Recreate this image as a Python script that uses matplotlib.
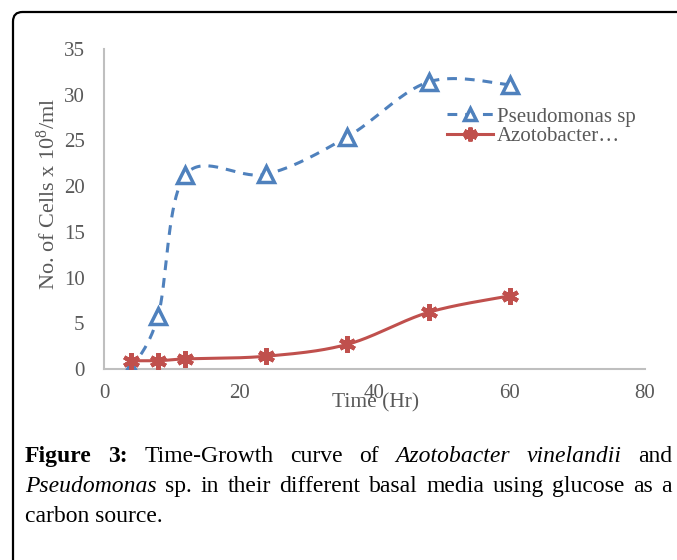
import numpy as np
import matplotlib
matplotlib.use("Agg")
import matplotlib.pyplot as plt
from matplotlib.patches import FancyBboxPatch

plt.rcParams['font.family'] = ['Liberation Serif', 'DejaVu Serif']
plt.rcParams['mathtext.fontset'] = 'custom'
plt.rcParams['mathtext.rm'] = 'Liberation Serif'
plt.rcParams['mathtext.it'] = 'Liberation Serif:italic'

# ---- data ----
time_hr = [4, 8, 12, 24, 36, 48, 60]
pseudomonas = [0.0, 5.8, 21.2, 21.3, 25.4, 31.4, 31.1]
azotobacter = [0.9, 0.9, 1.1, 1.4, 2.7, 6.2, 8.0]
series_labels = ["Pseudomonas sp", "Azotobacter\u2026"]
x_ticks = [0, 20, 40, 60, 80]
y_ticks = [0, 5, 10, 15, 20, 25, 30, 35]

BLUE = "#4F81BD"
RED = "#C0504D"
GREY = "#595959"

W, H = 677, 560
fig = plt.figure(figsize=(W / 100, H / 100), dpi=100)


def px(x, y):
    return x / W, 1 - y / H


def smooth(xs, ys, n=40):
    xs = np.asarray(xs, float)
    ys = np.asarray(ys, float)
    P = np.column_stack([xs, ys])
    Pe = np.vstack([P[0], P, P[-1]])
    out = [P[0]]
    for i in range(len(P) - 1):
        p0, p1, p2, p3 = Pe[i], Pe[i + 1], Pe[i + 2], Pe[i + 3]
        c1 = p1 + (p2 - p0) / 6.0
        c2 = p2 - (p3 - p1) / 6.0
        t = np.linspace(0, 1, n)[1:, None]
        seg = ((1 - t) ** 3) * p1 + 3 * ((1 - t) ** 2) * t * c1 + 3 * (1 - t) * t ** 2 * c2 + t ** 3 * p2
        out.extend(seg)
    out = np.array(out)
    return out[:, 0], out[:, 1]


# axes placement
l, b = px(104, 369)
r, t = px(645, 49)
ax = fig.add_axes([l, b, r - l, t - b])
ax.set_xlim(0, 80)
ax.set_ylim(0, 35)
ax.set_xticks(x_ticks)
ax.set_yticks(y_ticks)
for s in ("top", "right"):
    ax.spines[s].set_visible(False)
for s in ("left", "bottom"):
    ax.spines[s].set_color("#BFBFBF")
    ax.spines[s].set_linewidth(1.5)
    ax.spines[s].set_zorder(1)
ax.tick_params(length=0, labelsize=15, labelcolor=GREY)
ax.tick_params(axis='x', pad=11)
ax.tick_params(axis='y', pad=14)

DASH = (0, (3.2, 2.6))
sx, sy = smooth(time_hr, pseudomonas)
ax.plot(sx, sy, color=BLUE, lw=2.2, ls=DASH, zorder=2)
ax.plot(time_hr, pseudomonas, ls='none', marker='^', ms=11, mfc='white',
        mec=BLUE, mew=2.5, zorder=3)
sx2, sy2 = smooth(time_hr, azotobacter)
ax.plot(sx2, sy2, color=RED, lw=2.2, zorder=2)
ax.plot(time_hr, azotobacter, ls='none', marker=(6, 2, 0), ms=12,
        mec=RED, mew=3, zorder=4, clip_on=False)

# legend handles (proxy)
h1, = ax.plot([], [], color=BLUE, lw=2.2, ls=DASH, marker='^', ms=9,
              mfc='white', mec=BLUE, mew=2.5)
h2, = ax.plot([], [], color=RED, lw=2.2, marker=(6, 2, 0), ms=10, mec=RED, mew=3)
leg = ax.legend([h1, h2], series_labels, loc='upper left',
                bbox_to_anchor=px(447, 107), bbox_transform=fig.transFigure,
                frameon=False, fontsize=15, handlelength=2.2, handletextpad=0.2,
                labelspacing=0.0, borderaxespad=0, borderpad=0)
for txt in leg.get_texts():
    txt.set_color(GREY)

# axis labels
fig.text(*px(48, 194), "No. of Cells x 10$^{8}$/ml", rotation=90, ha='center',
         va='center', fontsize=16, color=GREY)
fig.text(*px(376, 403), "Time (Hr)", ha='center', va='center', fontsize=15.5, color=GREY)

# border
fig.patches.append(FancyBboxPatch(px(13, 600), 700 / W, 588 / H,
                                  boxstyle="round,pad=0,rounding_size=0.014",
                                  transform=fig.transFigure, fill=False,
                                  ec='black', lw=1.6, mutation_aspect=W / H))

# caption (justified)
cap_lines = [
    [("Figure", 'bold', 'normal'), ("3:", 'bold', 'normal'), ("Time-Growth", 'normal', 'normal'),
     ("curve", 'normal', 'normal'), ("of", 'normal', 'normal'),
     ("Azotobacter", 'normal', 'italic'), ("vinelandii", 'normal', 'italic'),
     ("and", 'normal', 'normal')],
    [("Pseudomonas", 'normal', 'italic'), ("sp.", 'normal', 'normal'), ("in", 'normal', 'normal'),
     ("their", 'normal', 'normal'), ("different", 'normal', 'normal'), ("basal", 'normal', 'normal'),
     ("media", 'normal', 'normal'), ("using", 'normal', 'normal'), ("glucose", 'normal', 'normal'),
     ("as", 'normal', 'normal'), ("a", 'normal', 'normal')],
    [("carbon source.", 'normal', 'normal')],
]
baselines = [462, 492, 522]
x_left, x_right = 25, 672
renderer = fig.canvas.get_renderer()
for li, (words, yb) in enumerate(zip(cap_lines, baselines)):
    objs = []
    for w, wt, st in words:
        objs.append(fig.text(0, 1 - yb / H, w, fontsize=17, fontweight=wt, fontstyle=st,
                             color='black', va='baseline', ha='left'))
    widths = [o.get_window_extent(renderer).width for o in objs]
    if li < len(cap_lines) - 1 and len(objs) > 1:
        gap = (x_right - x_left - sum(widths)) / (len(objs) - 1)
    else:
        gap = 5
    x = x_left
    for o, wd in zip(objs, widths):
        o.set_x(x / W)
        x += wd + gap

fig.savefig("out.png", dpi=100)
